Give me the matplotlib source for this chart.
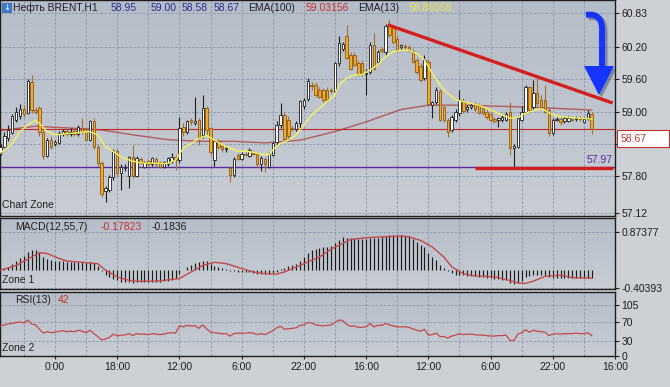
import numpy as np
import matplotlib
matplotlib.use('Agg')
import matplotlib.pyplot as plt
from matplotlib.colors import LinearSegmentedColormap
from matplotlib.path import Path
from matplotlib.patches import PathPatch, Polygon, Rectangle

plt.rcParams['font.family'] = ['Liberation Sans', 'DejaVu Sans']

# ---------------- data ----------------
opens = [58.26, 58.35, 58.52, 58.60, 58.85, 58.92, 59.05, 58.98, 59.55, 59.03,
         59.06, 58.62, 58.18, 58.47, 58.40, 58.42, 58.58, 58.64, 58.58, 58.65,
         58.58, 58.70, 58.65, 58.48, 58.82, 58.35, 58.04, 57.52, 57.55, 57.78,
         58.27, 57.86, 57.95, 57.80, 58.15, 57.80, 58.12, 57.98, 58.09, 58.02,
         58.12, 58.06, 57.98, 58.03, 58.08, 58.16, 58.10, 58.72, 58.62, 58.84,
         58.78, 58.84, 58.56, 59.06, 58.69, 58.10, 58.45, 58.36, 58.30, 57.95,
         57.83, 58.20, 58.12, 58.22, 58.18, 58.24, 58.22, 58.02, 58.12, 57.98,
         58.20, 58.44, 58.75, 58.94, 58.85, 58.70, 58.68, 58.78, 59.10, 59.24,
         59.50, 59.50, 59.40, 59.40, 59.40, 59.40, 59.38, 59.90, 60.17, 60.40,
         60.05, 60.05, 59.90, 59.90, 59.70, 59.74, 60.23, 59.92, 60.17, 60.10,
         60.60, 60.55, 60.35, 60.20, 60.22, 60.20, 60.12, 59.95, 59.85, 59.62,
         59.92, 59.12, 59.18, 59.38, 59.08, 58.84, 58.66, 58.84, 58.97, 59.20,
         59.05, 59.08, 59.15, 59.12, 59.06, 59.00, 58.96, 58.87, 58.84, 58.84,
         58.85, 59.00, 58.33, 58.35, 58.85, 59.00, 59.46, 59.09, 59.34, 59.22,
         59.22, 59.03, 58.60, 58.85, 58.87, 58.82, 58.82, 58.87, 58.86, 58.88,
         58.80, 58.86, 58.95]
highs = [58.40, 58.62, 58.75, 58.96, 59.08, 59.15, 59.12, 59.60, 59.68, 59.08,
         59.10, 58.70, 58.52, 58.55, 58.47, 58.65, 58.68, 58.68, 58.70, 58.70,
         58.76, 58.88, 58.70, 58.85, 58.88, 58.40, 58.08, 57.62, 57.82, 58.30,
         58.30, 58.02, 58.02, 58.18, 58.38, 58.17, 58.15, 58.08, 58.12, 58.16,
         58.15, 58.08, 58.08, 58.16, 58.24, 58.20, 58.90, 58.78, 58.85, 58.88,
         59.28, 58.88, 59.31, 59.10, 58.72, 58.50, 58.50, 58.40, 58.36, 57.98,
         58.16, 58.24, 58.26, 58.25, 58.32, 58.27, 58.26, 58.18, 58.16, 58.26,
         58.44, 58.82, 59.16, 59.00, 58.92, 58.74, 58.82, 59.22, 59.25, 59.62,
         59.55, 59.55, 59.45, 59.43, 59.45, 59.43, 59.93, 60.40, 60.30, 60.61,
         60.10, 60.10, 59.95, 59.95, 59.80, 60.30, 60.45, 60.15, 60.20, 60.62,
         60.72, 60.60, 60.40, 60.26, 60.26, 60.24, 60.16, 60.00, 59.90, 60.05,
         59.98, 59.20, 59.45, 59.42, 59.12, 58.88, 58.94, 59.04, 59.40, 59.25,
         59.12, 59.16, 59.18, 59.16, 59.10, 59.04, 59.00, 58.90, 58.90, 58.93,
         59.00, 59.18, 58.40, 58.92, 59.10, 59.50, 59.48, 59.59, 59.62, 59.30,
         59.50, 59.06, 58.88, 58.90, 58.90, 58.92, 58.92, 58.90, 58.92, 58.92,
         58.90, 59.03, 59.00]
lows = [58.20, 58.32, 58.45, 58.58, 58.80, 58.86, 58.90, 58.95, 58.98, 58.95,
        58.55, 58.12, 58.15, 58.30, 58.37, 58.40, 58.55, 58.55, 58.55, 58.55,
        58.55, 58.58, 58.45, 58.45, 58.30, 58.00, 57.42, 57.33, 57.50, 57.74,
        57.80, 57.55, 57.90, 57.58, 57.76, 57.78, 58.02, 57.95, 57.98, 58.00,
        57.98, 57.95, 57.96, 58.00, 58.05, 57.92, 58.05, 58.55, 58.58, 58.76,
        58.75, 58.38, 58.52, 58.57, 58.20, 58.00, 58.30, 58.25, 58.26, 57.70,
        57.78, 58.10, 58.10, 58.17, 58.15, 58.19, 57.98, 57.90, 57.88, 57.95,
        58.18, 58.40, 58.70, 58.45, 58.45, 58.64, 58.65, 58.70, 59.05, 59.20,
        59.40, 59.28, 59.25, 59.18, 59.18, 59.35, 59.35, 59.85, 60.12, 59.98,
        59.78, 59.85, 59.66, 59.66, 59.31, 59.70, 59.78, 59.88, 60.08, 60.05,
        60.38, 60.25, 60.10, 60.15, 60.15, 60.10, 59.90, 59.70, 59.55, 59.58,
        59.10, 58.88, 59.15, 58.82, 58.80, 58.53, 58.62, 58.80, 58.92, 58.98,
        59.00, 59.05, 59.00, 58.95, 58.94, 58.86, 58.80, 58.78, 58.72, 58.80,
        58.82, 58.20, 57.97, 58.32, 58.82, 58.97, 58.98, 59.05, 59.10, 59.05,
        58.98, 58.55, 58.57, 58.82, 58.76, 58.78, 58.80, 58.82, 58.82, 58.82,
        58.78, 58.84, 58.58]
closes = [58.35, 58.55, 58.66, 58.92, 59.00, 59.05, 58.95, 59.56, 59.03, 59.00,
          58.62, 58.17, 58.47, 58.35, 58.43, 58.60, 58.64, 58.58, 58.63, 58.58,
          58.72, 58.62, 58.48, 58.82, 58.35, 58.04, 57.48, 57.58, 57.78, 58.27,
          57.86, 57.98, 57.98, 58.15, 57.80, 58.14, 58.05, 58.06, 58.02, 58.14,
          58.02, 57.98, 58.06, 58.14, 58.16, 58.10, 58.70, 58.62, 58.82, 58.80,
          58.82, 58.52, 59.06, 58.66, 58.26, 58.45, 58.35, 58.30, 58.32, 57.83,
          58.13, 58.13, 58.22, 58.20, 58.28, 58.22, 58.02, 58.14, 58.02, 58.22,
          58.42, 58.75, 58.94, 58.50, 58.55, 58.68, 58.78, 59.19, 59.22, 59.56,
          59.48, 59.31, 59.28, 59.22, 59.22, 59.38, 59.90, 60.27, 60.25, 60.00,
          59.80, 59.87, 59.70, 59.72, 59.72, 60.23, 59.80, 60.10, 60.12, 60.58,
          60.42, 60.30, 60.15, 60.23, 60.20, 60.14, 59.93, 59.74, 59.59, 59.96,
          59.15, 59.18, 59.40, 58.85, 58.84, 58.63, 58.90, 59.00, 59.22, 59.02,
          59.08, 59.12, 59.05, 58.98, 58.97, 58.90, 58.84, 58.82, 58.88, 58.90,
          58.96, 58.32, 58.36, 58.88, 59.00, 59.46, 59.03, 59.34, 59.16, 59.09,
          59.00, 58.60, 58.85, 58.87, 58.80, 58.88, 58.88, 58.85, 58.88, 58.86,
          58.86, 58.98, 58.67]

ema13_x = [0, 3, 5, 7, 9, 10, 12, 14, 17, 20, 23, 25, 27, 29, 31, 33, 36, 40, 43, 45,
           47, 49, 51, 53, 55, 58, 61, 64, 67, 69, 70, 72, 74, 76, 78, 80, 82, 84, 86, 87,
           89, 91, 93, 95, 97, 99, 101, 103, 105, 107, 109, 111, 113, 115, 117, 120, 123,
           126, 129, 131, 133, 135, 137, 139, 141, 143, 146, 149, 152]
ema13_y = [58.23, 58.41, 58.63, 58.75, 58.84, 58.78, 58.63, 58.57, 58.59, 58.61, 58.63,
           58.57, 58.35, 58.26, 58.16, 58.10, 58.05, 58.04, 58.04, 58.10, 58.32, 58.41,
           58.50, 58.56, 58.47, 58.35, 58.27, 58.26, 58.21, 58.20, 58.29, 58.41, 58.47,
           58.57, 58.75, 58.94, 59.06, 59.19, 59.31, 59.49, 59.62, 59.68, 59.69, 59.77,
           59.87, 60.02, 60.11, 60.14, 60.14, 60.08, 59.96, 59.71, 59.49, 59.34, 59.22,
           59.17, 59.12, 59.03, 58.94, 58.88, 58.89, 58.97, 59.02, 59.06, 58.98, 58.92,
           58.89, 58.88, 58.86]
ema100_x = [0, 9, 11, 17, 26, 34, 43, 51, 60, 68, 77, 86, 94, 103, 110, 120, 128, 137, 152]
ema100_y = [58.65, 58.73, 58.72, 58.70, 58.66, 58.57, 58.48, 58.45, 58.45, 58.42, 58.47,
            58.63, 58.81, 59.04, 59.12, 59.12, 59.10, 59.08, 59.03]

resistance_x = [99.6, 157.4]
resistance_y = [60.61, 59.16]
support_x = [121.9, 157.4]
support_y = [57.955, 57.955]
last_price = 58.67
support_level = 57.97

macd_hist = [0.00, 0.03, 0.08, 0.14, 0.20, 0.27, 0.33, 0.42, 0.46, 0.45,
             0.40, 0.31, 0.26, 0.23, 0.21, 0.20, 0.20, 0.19, 0.19, 0.19,
             0.19, 0.19, 0.18, 0.19, 0.16, 0.09, -0.02, -0.10, -0.15, -0.19,
             -0.23, -0.26, -0.27, -0.27, -0.28, -0.27, -0.27, -0.27, -0.27, -0.26,
             -0.26, -0.26, -0.25, -0.24, -0.22, -0.18, -0.08, 0.00, 0.07, 0.13,
             0.17, 0.19, 0.21, 0.20, 0.15, 0.10, 0.07, 0.04, 0.02, -0.02,
             -0.02, -0.03, -0.03, -0.04, -0.05, -0.06, -0.08, -0.08, -0.09, -0.09,
             -0.07, -0.04, 0.02, 0.06, 0.09, 0.11, 0.15, 0.22, 0.30, 0.40,
             0.46, 0.48, 0.50, 0.52, 0.53, 0.55, 0.62, 0.70, 0.75, 0.74,
             0.73, 0.73, 0.72, 0.72, 0.72, 0.74, 0.73, 0.74, 0.75, 0.78,
             0.80, 0.80, 0.80, 0.80, 0.79, 0.77, 0.72, 0.64, 0.57, 0.52,
             0.40, 0.30, 0.24, 0.13, 0.06, -0.02, -0.07, -0.10, -0.10, -0.12,
             -0.13, -0.13, -0.14, -0.15, -0.16, -0.17, -0.18, -0.19, -0.21, -0.22,
             -0.23, -0.28, -0.31, -0.29, -0.24, -0.16, -0.13, -0.10, -0.10, -0.11,
             -0.12, -0.16, -0.17, -0.18, -0.18, -0.18, -0.18, -0.18, -0.18, -0.18,
             -0.18, -0.17, -0.18]
signal_x = [0, 4, 8, 10, 12, 15, 17, 21, 25, 27, 30, 33, 35, 40, 44, 46, 49, 52, 55, 58,
            62, 65, 68, 71, 73, 77, 82, 85, 90, 94, 98, 103, 105, 108, 111, 114, 116, 119,
            122, 127, 130, 133, 135, 137, 140, 144, 147, 152]
signal_y = [0.00, 0.11, 0.30, 0.40, 0.38, 0.27, 0.21, 0.18, 0.15, 0.00, -0.15, -0.23,
            -0.25, -0.25, -0.21, -0.19, -0.04, 0.11, 0.18, 0.15, 0.04, -0.04, -0.08,
            -0.09, -0.04, 0.11, 0.30, 0.48, 0.70, 0.74, 0.76, 0.78, 0.76, 0.68, 0.53,
            0.30, 0.08, -0.08, -0.13, -0.15, -0.21, -0.29, -0.30, -0.25, -0.14, -0.11,
            -0.17, -0.18]

rsi = [62, 64, 66, 67, 69, 70, 68, 74, 66, 64,
       55, 47, 50, 48, 49, 51, 52, 50, 51, 50,
       53, 51, 48, 53, 46, 40, 33, 35, 38, 45,
       41, 43, 43, 46, 42, 46, 45, 45, 44, 46,
       45, 44, 45, 47, 48, 47, 62, 60, 63, 62,
       62, 57, 64, 56, 49, 48, 47, 46, 46, 41,
       46, 47, 47, 47, 48, 47, 44, 46, 44, 48,
       52, 58, 61, 55, 56, 57, 58, 63, 64, 69,
       68, 64, 63, 62, 63, 64, 69, 74, 73, 65,
       61, 62, 59, 59, 60, 67, 60, 63, 63, 67,
       64, 62, 60, 60, 60, 59, 56, 53, 51, 55,
       43, 44, 47, 40, 40, 37, 41, 43, 46, 44,
       45, 45, 44, 43, 43, 42, 41, 41, 42, 42,
       43, 32, 32, 45, 48, 54, 49, 53, 51, 50,
       49, 42, 45, 46, 45, 46, 46, 46, 47, 46,
       46, 48, 42]

time_ticks = [14, 30, 46, 62, 78, 94, 110, 126, 142, 158]
time_labels = ['0:00', '18:00', '12:00', '6:00', '22:00', '16:00', '12:00', '6:00', '22:00', '16:00']
grid_ticks = [6, 22, 38, 54, 70, 86, 102, 118, 134, 150]
price_ticks = [60.83, 60.20, 59.60, 59.00, 58.40, 57.80, 57.12]
price_labels = ['60.83', '60.20', '59.60', '59.00', '', '57.80', '57.12']
macd_ticks = [0.87377, -0.40393]
rsi_ticks = [0, 30, 70, 105]

# ---------------- layout ----------------
W, H = 670, 387
fig = plt.figure(figsize=(6.7, 3.87), dpi=100)
fig.patch.set_facecolor('#cdd0d5')


def panel(top, bottom):
    return [0, 1 - bottom / H, 615 / W, (bottom - top) / H]


ax = fig.add_axes(panel(0, 216))
ax_m = fig.add_axes(panel(218, 289), sharex=ax)
ax_r = fig.add_axes(panel(292, 356), sharex=ax)

grad = LinearSegmentedColormap.from_list('bg', ['#b5bdc9', '#c8cdd4'])
gcol = '#8995a8'
for a in (ax, ax_m, ax_r):
    a.imshow(np.linspace(0, 1, 64).reshape(-1, 1), extent=[0, 1, 0, 1], transform=a.transAxes,
             cmap=grad, aspect='auto', zorder=0)
    a.yaxis.tick_right()
    a.tick_params(axis='y', direction='out', length=3, width=0.8, pad=1.5, labelsize=7.5,
                  colors='#1e1e1e')
    a.tick_params(axis='x', length=0, labelbottom=False)
    a.set_xticks(time_ticks)
    a.set_xticks(grid_ticks, minor=True)
    a.tick_params(axis='x', which='minor', length=0)
    a.grid(axis='x', which='both', ls=(0, (3, 2)), color=gcol, lw=0.6)
    a.grid(axis='y', which='major', ls=(0, (3, 2)), color=gcol, lw=0.6)
    for s in a.spines.values():
        s.set_color('#1e1e1e')
        s.set_linewidth(1.0)

# ---------------- main price panel ----------------
idx = np.arange(len(closes))
o, h, l, c = map(np.array, (opens, highs, lows, closes))
up = c >= o
ax.vlines(idx[up], l[up], h[up], color='#1e1e1e', lw=0.8, zorder=3)
ax.vlines(idx[~up], l[~up], h[~up], color='#a8702a', lw=0.8, zorder=3)
body_lo = np.minimum(o, c)
body_h = np.maximum(np.abs(c - o), 0.012)
ax.bar(idx[up], body_h[up], bottom=body_lo[up], width=0.62, color='white',
       edgecolor='#1e1e1e', lw=0.6, zorder=4)
ax.bar(idx[~up], body_h[~up], bottom=body_lo[~up], width=0.62, color='#f5a72a',
       edgecolor='#8a5a14', lw=0.6, zorder=4)

ax.plot(ema100_x, ema100_y, color='#b04a4a', lw=1.0, alpha=0.85, zorder=2)
ax.plot(ema13_x, ema13_y, color='#f3f35c', lw=1.0, zorder=5)
ax.axhline(last_price, color='#c42424', lw=0.8, zorder=2)
ax.axhline(support_level, color='#5a2d9e', lw=1.0, zorder=2)
ax.plot(resistance_x, resistance_y, color='#d41e1e', lw=2.4, solid_capstyle='butt', zorder=6)
ax.plot(support_x, support_y, color='#d41e1e', lw=2.4, solid_capstyle='butt', zorder=6)

ax.set_xlim(-0.13, 158)
ax.set_ylim(57.064, 61.071)
ax.set_yticks(price_ticks)
ax.set_yticklabels(price_labels)

ax.text(157.4, support_level + 0.04, '57.97', color='#5b2d9a', fontsize=7.5,
        ha='right', va='bottom', zorder=7)
ax.text(0.004, 0.05, 'Chart Zone', transform=ax.transAxes, fontsize=7.5, color='#202020',
        va='center', zorder=7)


# blue arrow (drawn annotation), in axes fractions
def A(px, py):
    return (px / 615, 1 - py / 216)


for dx, col, alpha, z in ((2.5, '#3a4258', 0.45, 7), (0, '#1535ff', 1.0, 8)):
    shaft = Path([A(586 + dx, 15 + dx), A(603 + dx, 12 + dx), A(602 + dx, 32 + dx), A(602 + dx, 70 + dx)],
                 [Path.MOVETO, Path.CURVE3, Path.CURVE3, Path.LINETO])
    ax.add_patch(PathPatch(shaft, fc='none', ec=col, lw=4.3, alpha=alpha, transform=ax.transAxes,
                           zorder=z, clip_on=False))
    ax.add_patch(Polygon([A(584 + dx, 66 + dx), A(614 + dx, 66 + dx), A(599 + dx, 95 + dx)],
                         closed=True, fc=col, ec='none', alpha=alpha, transform=ax.transAxes,
                         zorder=z))

# last price box on the right scale
fig.add_artist(Rectangle((617 / W, 1 - 147 / H), 52 / W, 17 / H, transform=fig.transFigure,
                         fc='white', ec='#c43030', lw=0.8))
fig.text(621 / W, 1 - 138.5 / H, '58.67', color='#c43030', fontsize=7.5, va='center')

# ---------------- MACD panel ----------------
ax_m.vlines(idx, 0, macd_hist, color='#1a1a1a', lw=0.85, zorder=3)
ax_m.plot(signal_x, signal_y, color='#c44848', lw=1.0, zorder=4)
ax_m.set_ylim(-0.428, 1.19)
ax_m.set_yticks(macd_ticks)
ax_m.set_yticklabels(['0.87377', '-0.40393'])
ax_m.text(0.025, 0.87, 'MACD(12,55,7)', transform=ax_m.transAxes, fontsize=7.5, color='#1e1e1e', va='center')
ax_m.text(0.163, 0.87, '-0.17823', transform=ax_m.transAxes, fontsize=7.5, color='#c43030', va='center')
ax_m.text(0.247, 0.87, '-0.1836', transform=ax_m.transAxes, fontsize=7.5, color='#1e1e1e', va='center')
ax_m.text(0.004, 0.13, 'Zone 1', transform=ax_m.transAxes, fontsize=7.5, color='#202020', va='center')

# ---------------- RSI panel ----------------
ax_r.plot(idx, rsi, color='#c44848', lw=0.9, zorder=3)
ax_r.set_ylim(0, 131.7)
ax_r.set_yticks(rsi_ticks)
ax_r.set_yticklabels(['0', '30', '70', '105'])
ax_r.set_xticklabels(time_labels)
ax_r.tick_params(axis='x', which='major', length=2, labelbottom=True, labelsize=7.5,
                 colors='#1e1e1e', pad=2)
ax_r.text(0.025, 0.875, 'RSI(13)', transform=ax_r.transAxes, fontsize=7.5, color='#1e1e1e', va='center')
ax_r.text(0.094, 0.875, '42', transform=ax_r.transAxes, fontsize=7.5, color='#c43030', va='center')
ax_r.text(0.004, 0.125, 'Zone 2', transform=ax_r.transAxes, fontsize=7.5, color='#202020', va='center')
ax_r.set_xlim(-0.13, 158)

# ---------------- header ----------------
fig.add_artist(Rectangle((2 / W, 1 - 12 / H), 9 / W, 9 / H, transform=fig.transFigure,
                         fc='#3c7fd8', ec='#2a5aa0', lw=0.5))
fig.text(6.5 / W, 1 - 7.5 / H, '↓', color='white', fontsize=6, ha='center', va='center',
         family=['DejaVu Sans'])
head = [(13, 'Нефть BRENT,H1', '#1e1e28'), (111, '58.95', '#2b2b8c'), (151, '59.00', '#2b2b8c'),
        (182, '58.58', '#2b2b8c'), (214, '58.67', '#2b2b8c'), (248, 'EMA(100)', '#1e1e28'),
        (306, '59.03156', '#c43030'), (358, 'EMA(13)', '#1e1e28'), (409, '58.86058', '#e6e64a')]
for px, s, col in head:
    fig.text(px / W, 1 - 8 / H, s, color=col, fontsize=7.5, va='center')

fig.savefig('out.png', dpi=100, facecolor=fig.get_facecolor())
